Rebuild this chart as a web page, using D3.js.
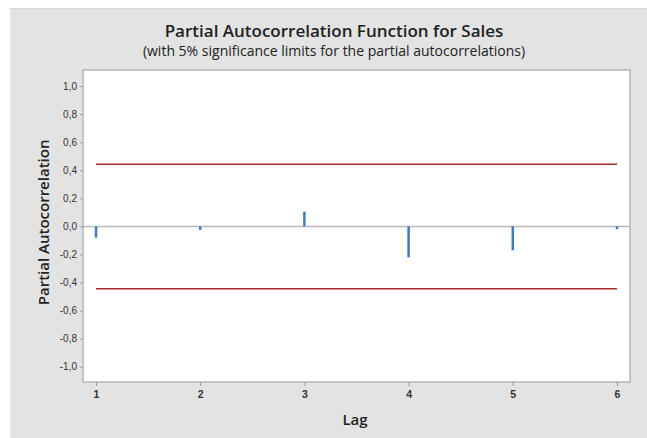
<!DOCTYPE html>
<html>
<head>
<meta charset="utf-8">
<script src="https://cdn.jsdelivr.net/npm/d3@7"></script>
<style>
  body { margin: 0; background: #fff; }
  svg { display: block; font-family: "Open Sans", "Noto Sans", sans-serif; }
</style>
</head>
<body>
<div id="chart"></div>
<script>
const lags = [1, 2, 3, 4, 5, 6];
const pacf = [-0.08, -0.025, 0.105, -0.22, -0.17, -0.02];
const limit = 0.444;
const yTicks = [-1.0, -0.8, -0.6, -0.4, -0.2, 0.0, 0.2, 0.4, 0.6, 0.8, 1.0];
const titleText = 'Partial Autocorrelation Function for Sales';
const subtitleText = '(with 5% significance limits for the partial autocorrelations)';

const width = 647, height = 438;
const margin = {top: 70, right: 17, bottom: 56, left: 83};

const svg = d3.select('#chart').append('svg')
    .attr('width', width)
    .attr('height', height);

// grey frame
svg.append('rect')
    .attr('x', 10).attr('y', 8)
    .attr('width', width - 10).attr('height', height - 8)
    .attr('fill', '#e3e3e3');
svg.append('line')
    .attr('x1', 10).attr('x2', width).attr('y1', 8.5).attr('y2', 8.5)
    .attr('stroke', '#d6d6d6');

const x = d3.scaleLinear()
    .domain([0.875, 6.125])
    .range([margin.left, width - margin.right]);

const y = d3.scaleLinear()
    .domain([-1.109, 1.115])
    .range([height - margin.bottom, margin.top]);

// plot area
svg.append('rect')
    .attr('x', margin.left).attr('y', margin.top)
    .attr('width', width - margin.left - margin.right)
    .attr('height', height - margin.top - margin.bottom)
    .attr('fill', '#fff')
    .attr('stroke', '#b5b5b5')
    .attr('stroke-width', 1.5);

const fmt = d => d3.format('.1f')(d).replace('.', ',').replace('−', '-');

const yAxis = g => g
    .attr('transform', `translate(${margin.left},0)`)
    .call(d3.axisLeft(y).tickValues(yTicks).tickFormat(fmt).tickSize(3).tickPadding(3))
    .call(g => g.select('.domain').remove())
    .call(g => g.selectAll('.tick line').attr('stroke', '#999'))
    .call(g => g.selectAll('.tick text')
        .attr('fill', '#333')
        .attr('font-size', 10));

const xAxis = g => g
    .attr('transform', `translate(0,${height - margin.bottom})`)
    .call(d3.axisBottom(x).tickValues(lags).tickFormat(d3.format('d')).tickSize(4).tickPadding(5))
    .call(g => g.select('.domain').remove())
    .call(g => g.selectAll('.tick line').attr('stroke', '#999'))
    .call(g => g.selectAll('.tick text')
        .attr('fill', '#333')
        .attr('font-size', 10.5)
        .attr('font-weight', 600));

svg.append('g').call(yAxis);
svg.append('g').call(xAxis);

// zero reference line
svg.append('line')
    .attr('x1', margin.left).attr('x2', width - margin.right)
    .attr('y1', y(0)).attr('y2', y(0))
    .attr('stroke', '#b8b8b8')
    .attr('stroke-width', 1.5);

// significance limits
svg.append('g')
    .selectAll('line')
    .data([limit, -limit])
    .join('line')
      .attr('x1', x(lags[0])).attr('x2', x(lags[lags.length - 1]))
      .attr('y1', d => y(d)).attr('y2', d => y(d))
      .attr('stroke', '#a8272b')
      .attr('stroke-width', 1.5);

// pacf spikes
svg.append('g')
    .selectAll('line')
    .data(pacf)
    .join('line')
      .attr('x1', (d, i) => x(lags[i])).attr('x2', (d, i) => x(lags[i]))
      .attr('y1', y(0)).attr('y2', d => y(d))
      .attr('stroke', '#3d7cc4')
      .attr('stroke-width', 2.5);

// titles
const cx = 334;
svg.append('text')
    .attr('x', cx).attr('y', 37)
    .attr('text-anchor', 'middle')
    .attr('font-size', 17)
    .attr('font-weight', 600)
    .attr('fill', '#222')
    .text(titleText);
svg.append('text')
    .attr('x', cx).attr('y', 56)
    .attr('text-anchor', 'middle')
    .attr('font-size', 14)
    .attr('fill', '#222')
    .text(subtitleText);

svg.append('text')
    .attr('x', 355)
    .attr('y', 425)
    .attr('text-anchor', 'middle')
    .attr('font-size', 15)
    .attr('font-weight', 600)
    .attr('fill', '#222')
    .text('Lag');

svg.append('text')
    .attr('transform', `translate(49,${y(0) - 4}) rotate(-90)`)
    .attr('text-anchor', 'middle')
    .attr('font-size', 15)
    .attr('font-weight', 600)
    .attr('fill', '#222')
    .text('Partial Autocorrelation');
</script>
</body>
</html>
